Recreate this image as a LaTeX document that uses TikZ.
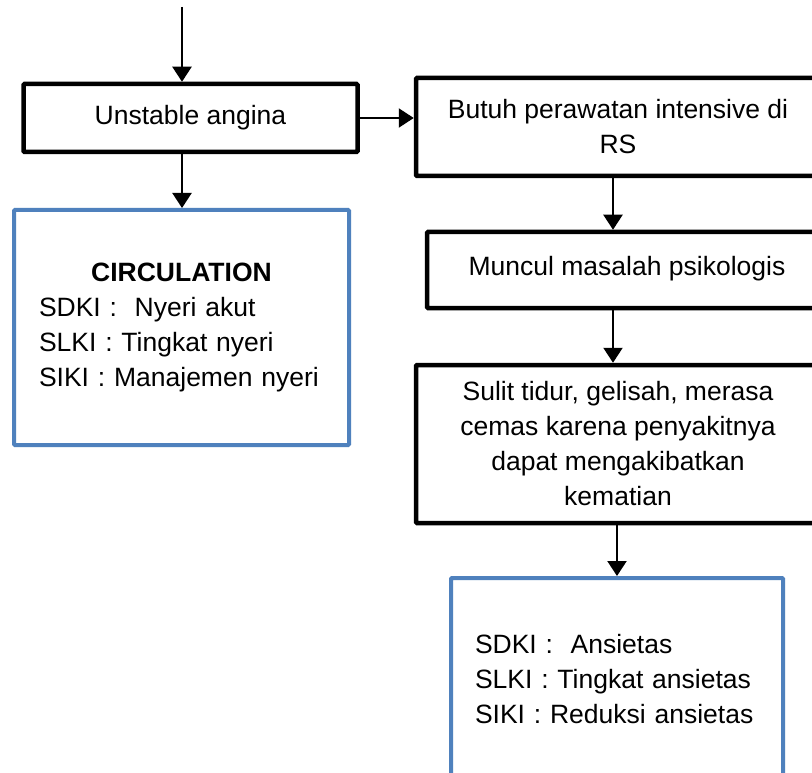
\documentclass[tikz,border=0pt]{standalone}
\usepackage{fontspec}
\setmainfont{Liberation Sans}
\usetikzlibrary{arrows.meta}
\definecolor{offblue}{HTML}{4F81BD}
\tikzset{
  blackbox/.style={draw=black, line width=4.5pt, rounded corners=1pt, inner sep=0pt, align=center,
    font=\fontsize{26.5}{35}\selectfont},
  bluebox/.style={draw=offblue, line width=4pt, rounded corners=1pt, inner sep=0pt,
    font=\fontsize{26.5}{35}\selectfont},
  arr/.style={line width=2.2pt, -{Triangle[width=19pt,length=15pt]}}
}
\begin{document}
\begin{tikzpicture}[x=1pt,y=-1pt]
\path[use as bounding box] (0,0) rectangle (812,773);
\clip (0,0) rectangle (812,773);
\fill[white] (0,0) rectangle (812,773);

\coordinate (top) at (182,7);
\coordinate (cx) at (613,0);

\node[blackbox, minimum width=334pt, minimum height=68pt] (u) at (190.5,118) {Unstable angina};

\node[bluebox, minimum width=335pt, minimum height=235pt, text width=285pt, align=left] (lb) at (181.5,327.5)
  {\makebox[\hsize][c]{\textbf{CIRCULATION}}\\
   SDKI :\ \ Nyeri akut\\
   SLKI : Tingkat nyeri\\
   SIKI : Manajemen nyeri};

\node[blackbox, minimum width=404pt, minimum height=98pt] (b) at (618,127)
  {Butuh perawatan intensive di\\RS};

\node[blackbox, minimum width=400pt, minimum height=76pt] (m) at (627,270)
  {\raisebox{8pt}{Muncul masalah psikologis}};

\node[blackbox, minimum width=404pt, minimum height=158pt] (s) at (618,444)
  {Sulit tidur, gelisah, merasa\\cemas karena penyakitnya\\dapat mengakibatkan\\kematian};

\node[bluebox, minimum width=332pt, minimum height=202pt, text width=284pt, align=left] (bb) at (617,679)
  {SDKI :\ \ Ansietas\\
   SLKI : Tingkat ansietas\\
   SIKI : Reduksi ansietas};

\draw[arr] (top) -- (top |- u.north);
\draw[arr] (u.south -| top) -- (lb.north -| top);
\draw[arr] (u.east) -- (u.east -| b.west);
\draw[arr] (b.south -| cx) -- (m.north -| cx);
\draw[arr] (m.south -| cx) -- (s.north -| cx);
\draw[arr] (s.south -| bb.north) -- (bb.north);
\end{tikzpicture}
\end{document}
